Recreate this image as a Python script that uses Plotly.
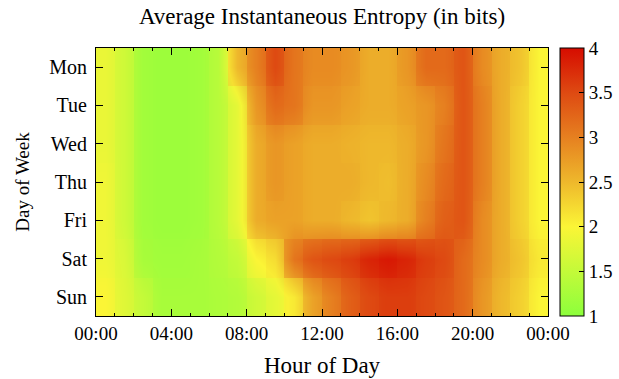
import plotly.graph_objects as go

days = ["Mon", "Tue", "Wed", "Thu", "Fri", "Sat", "Sun"]
hours = [h + 0.5 for h in range(24)]
x_tick_vals = [0, 4, 8, 12, 16, 20, 24]
x_tick_text = ["00:00", "04:00", "08:00", "12:00", "16:00", "20:00", "00:00"]

mon = [1.85, 1.6, 1.2, 1.15, 1.15, 1.2, 1.4, 2.5, 3.0, 3.5, 3.1, 2.9,
       2.9, 2.8, 2.6, 2.6, 2.8, 3.2, 3.2, 3.4, 2.9, 2.6, 2.4, 2.0]
tue = [1.85, 1.6, 1.2, 1.15, 1.15, 1.2, 1.4, 1.8, 2.8, 3.2, 3.1, 2.8,
       2.8, 2.7, 2.6, 2.6, 2.7, 2.8, 3.0, 3.4, 3.0, 2.6, 2.3, 2.0]
wed = [1.85, 1.6, 1.2, 1.15, 1.15, 1.2, 1.4, 1.8, 2.6, 2.8, 2.7, 2.6,
       2.6, 2.55, 2.5, 2.5, 2.6, 2.8, 3.1, 3.4, 3.0, 2.6, 2.3, 2.0]
thu = [1.9, 1.6, 1.2, 1.15, 1.15, 1.2, 1.4, 1.8, 2.6, 2.8, 2.7, 2.6,
       2.6, 2.6, 2.5, 2.45, 2.6, 2.9, 3.2, 3.4, 3.0, 2.6, 2.3, 2.0]
fri = [1.9, 1.6, 1.2, 1.15, 1.15, 1.2, 1.4, 1.8, 2.6, 2.7, 2.7, 2.6,
       2.6, 2.5, 2.4, 2.5, 2.6, 3.0, 3.3, 3.4, 2.9, 2.6, 2.3, 2.0]
sat = [1.9, 1.7, 1.25, 1.2, 1.2, 1.25, 1.35, 1.5, 2.0, 2.2, 3.1, 3.4,
       3.5, 3.6, 3.8, 3.9, 3.8, 3.6, 3.5, 3.2, 2.9, 2.6, 2.4, 2.1]
sun = [2.0, 1.75, 1.5, 1.25, 1.25, 1.25, 1.3, 1.35, 1.6, 1.8, 2.1, 2.7,
       3.0, 3.3, 3.5, 3.6, 3.6, 3.5, 3.4, 3.2, 2.8, 2.5, 2.3, 2.0]

z = [mon, tue, wed, thu, fri, sat, sun]

colorscale = [
    [0.0, "#8cff3c"],
    [0.333, "#fbf536"],
    [0.5, "#eeb82c"],
    [0.667, "#e68020"],
    [0.833, "#de4a12"],
    [1.0, "#d60c00"],
]

font_family = "Liberation Serif, Times New Roman, serif"

fig = go.Figure()
# blocky base layer
fig.add_trace(go.Heatmap(
    z=z, x=hours, y=list(range(7)),
    zmin=1, zmax=4, zsmooth=False,
    colorscale=colorscale, showscale=False, hoverinfo="skip",
))
# smoothed overlay to soften block edges
fig.add_trace(go.Heatmap(
    z=z, x=hours, y=list(range(7)),
    zmin=1, zmax=4, zsmooth="best", opacity=0.65,
    colorscale=colorscale,
    colorbar=dict(
        x=1.0, xanchor="left", xpad=12, xref="paper",
        y=0.5, yanchor="middle", len=1.0, lenmode="fraction",
        thickness=24, thicknessmode="pixels",
        outlinecolor="black", outlinewidth=1,
        tickvals=[1, 1.5, 2, 2.5, 3, 3.5, 4],
        ticktext=["1", "1.5", "2", "2.5", "3", "3.5", "4"],
        ticks="inside", ticklen=5, tickcolor="black",
        tickfont=dict(family=font_family, size=19, color="black"),
        ypad=0,
    ),
))

fig.update_layout(
    width=619, height=379,
    margin=dict(l=96, r=71, t=48, b=63, autoexpand=False),
    paper_bgcolor="white", plot_bgcolor="white",
    font=dict(family=font_family, color="black"),
    title=dict(text="Average Instantaneous Entropy (in bits)",
               x=(96 + 548) / 2 / 619, xanchor="center",
               y=1 - 16 / 379, yanchor="middle",
               font=dict(family=font_family, size=23, color="black")),
    xaxis=dict(
        range=[0, 24], tickvals=x_tick_vals, ticktext=x_tick_text,
        ticks="inside", ticklen=7, tickcolor="black", tickwidth=1,
        minor=dict(dtick=1, tick0=0, ticks="inside", ticklen=3, tickcolor="black"),
        showline=True, linecolor="black", linewidth=1, mirror="ticks",
        showgrid=False, zeroline=False,
        tickfont=dict(family=font_family, size=19, color="black"),
        title=dict(text="Hour of Day", standoff=14,
                   font=dict(family=font_family, size=23, color="black")),
    ),
    yaxis=dict(
        range=[6.5, -0.5], tickvals=list(range(7)), ticktext=days,
        ticks="inside", ticklen=7, tickcolor="black",
        ticklabelstandoff=4,
        showline=True, linecolor="black", linewidth=1, mirror="ticks",
        showgrid=False, zeroline=False,
        tickfont=dict(family=font_family, size=20, color="black"),
        title=dict(text="Day of Week", standoff=14,
                   font=dict(family=font_family, size=19, color="black")),
    ),
)

fig.write_html("out.html",
               config={"displayModeBar": False},
               post_script="document.body.style.margin='0';document.body.style.overflow='hidden';")
